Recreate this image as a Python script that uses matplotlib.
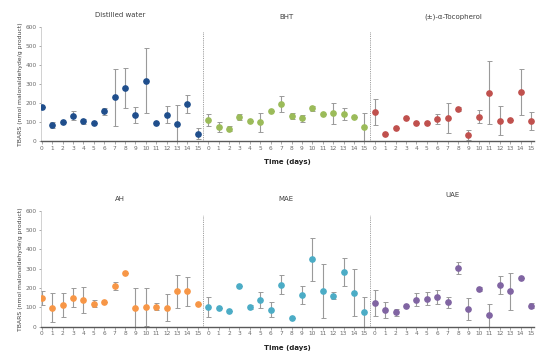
import numpy as np
import matplotlib
matplotlib.use("Agg")
import matplotlib.pyplot as plt

# --- Data (TBARS, nmol malonaldehyde/g product) ---

days = list(range(16))

water = [179, 84, 100, 133, 103, 96, 156, 230, 277, 137, 316, 93, 137, 91, 195, 39]
water_err = [0, 15, 0, 25, 15, 0, 20, 149, 105, 43, 171, 0, 45, 97, 47, 30]

bht = [110, 74, 65, 126, 103, 98, 160, 196, 133, 119, 172, 144, 146, 142, 125, 74]
bht_err = [33, 28, 12, 17, 0, 50, 0, 42, 16, 20, 12, 0, 56, 34, 0, 74]

toco = [153, 37, 67, 121, 96, 93, 116, 121, 168, 32, 128, 253, 107, 112, 258, 104]
toco_err = [69, 0, 0, 0, 0, 0, 26, 78, 13, 26, 35, 166, 77, 0, 119, 47]

ah = [149, 99, 111, 150, 137, 119, 128, 211, 280, 99, 102, 104, 99, 182, 183, 118]
ah_err = [38, 74, 62, 50, 66, 17, 0, 19, 0, 99, 100, 18, 68, 88, 76, 0]

mae = [100, 97, 83, 213, 100, 137, 88, 218, 45, 164, 348, 183, 161, 282, 176, 76]
mae_err = [51, 0, 0, 0, 10, 42, 38, 50, 0, 45, 112, 140, 20, 74, 123, 76]

uae = [121, 87, 74, 109, 140, 145, 154, 125, 304, 90, 195, 59, 215, 182, 251, 109]
uae_err = [68, 41, 18, 0, 35, 35, 37, 29, 29, 58, 11, 59, 45, 95, 0, 14]

top_groups = [("Distilled water", water, water_err, "#1f4e8c"),
              ("BHT", bht, bht_err, "#9bbb59"),
              ("(\u00b1)-\u03b1-Tocopherol", toco, toco_err, "#c0504d")]
bottom_groups = [("AH", ah, ah_err, "#f79646"),
                 ("MAE", mae, mae_err, "#4bacc6"),
                 ("UAE", uae, uae_err, "#8064a2")]

ylabel = "TBARS (nmol malonaldehyde/g product)"


def draw_panel(ax, groups, title_ys):
    n = len(days)
    for g, (name, vals, errs, color) in enumerate(groups):
        x = np.arange(n) + g * n
        ax.errorbar(x, vals, yerr=errs, fmt="none", ecolor="#9a9a9a",
                    elinewidth=0.8, capsize=1.8, capthick=0.7, zorder=2)
        ax.plot(x, vals, "o", color=color, markersize=3.8, zorder=3)
        ax.text(x.mean(), title_ys[g], name, ha="center", va="center",
                fontsize=5, color="#404040")
        if g > 0:
            ax.axvline(g * n - 0.5, color="#7f7f7f", linestyle=(0, (1, 1.2)),
                       linewidth=0.6, ymin=0, ymax=0.96, zorder=1)

    ax.set_xlim(-0.1, 3 * n - 0.7)
    ax.set_ylim(0, 600)
    ax.set_xticks(np.arange(3 * n))
    ax.set_xticklabels([str(d) for d in days] * 3)
    ax.set_yticks(np.arange(0, 601, 100))
    ax.tick_params(axis="both", labelsize=4.2, colors="#6a6a6a",
                   length=1.5, width=0.4, pad=1.5)
    ax.tick_params(axis="x", length=2)
    for side in ("top", "right"):
        ax.spines[side].set_visible(False)
    ax.spines["bottom"].set_color("#595959")
    ax.spines["bottom"].set_linewidth(1.0)
    ax.spines["left"].set_color("#bfbfbf")
    ax.spines["left"].set_linewidth(0.5)
    ax.set_ylabel(ylabel, fontsize=4.4, color="#404040", labelpad=2)
    ax.set_xlabel("Time (days)", fontsize=5, color="#202020",
                  fontweight="bold", labelpad=6)


fig = plt.figure(figsize=(5.5, 3.55), dpi=100)
ax1 = fig.add_axes([0.074, 0.603, 0.897, 0.321])
ax2 = fig.add_axes([0.074, 0.080, 0.897, 0.326])

draw_panel(ax1, top_groups, [665, 653, 653])
draw_panel(ax2, bottom_groups, [660, 660, 680])

fig.savefig("out.png", dpi=100)
